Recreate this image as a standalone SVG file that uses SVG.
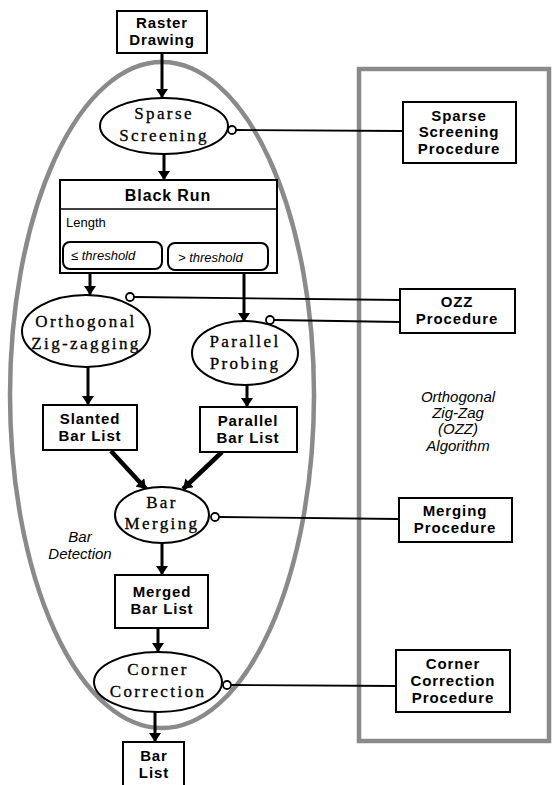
<svg xmlns="http://www.w3.org/2000/svg" width="552" height="785" viewBox="0 0 552 785">
<defs>
<marker id="ah" viewBox="0 0 12 16" refX="12" refY="8" markerWidth="16" markerHeight="12" markerUnits="userSpaceOnUse" orient="auto">
<path d="M0,0 L12,8 L0,16 z" fill="#000"/>
</marker>
<style>
.box{fill:#fff;stroke:#000;stroke-width:2}
.ell{fill:#fff;stroke:#000;stroke-width:2}
.bt{font-family:"Liberation Sans",Arial,sans-serif;font-weight:bold;font-size:15px;letter-spacing:0.9px;text-anchor:middle;fill:#000}
.et{font-family:"Liberation Serif","Times New Roman",serif;font-size:17px;letter-spacing:2.4px;text-anchor:middle;fill:#000;stroke:#000;stroke-width:0.3}
.it{font-family:"Liberation Sans",Arial,sans-serif;font-style:italic;font-size:15px;text-anchor:middle;fill:#000}
.arr{stroke:#000;stroke-width:3;fill:none;marker-end:url(#ah)}
.tarr{stroke:#000;stroke-width:4.5;fill:none;marker-end:url(#ah)}
.ln{stroke:#000;stroke-width:1.8;fill:none}
.dot{fill:#fff;stroke:#000;stroke-width:1.8}
.grp{fill:none;stroke:#8a8a8a;stroke-width:4.5}
.sm{font-family:"Liberation Sans",Arial,sans-serif;font-size:13px;fill:#000}
</style>
</defs>
<rect width="552" height="785" fill="#fff"/>

<g id="bar-detection">
<ellipse cx="162" cy="395" rx="152" ry="333" class="grp"/>
<text class="it" x="80" y="542">Bar</text>
<text class="it" x="80" y="559">Detection</text>
</g>
<g id="ozz-algorithm">
<rect x="359" y="69" width="190" height="672" class="grp"/>
<text class="it" x="458" y="402">Orthogonal</text>
<text class="it" x="458" y="418">Zig-Zag</text>
<text class="it" x="458" y="434">(OZZ)</text>
<text class="it" x="458" y="451">Algorithm</text>
</g>

<g id="connectors">
<line class="arr" x1="162" y1="53" x2="162" y2="98"/>
<line class="arr" x1="164" y1="154" x2="164" y2="180"/>
<line class="arr" x1="90" y1="269" x2="90" y2="295"/>
<line class="arr" x1="244" y1="270" x2="244" y2="322"/>
<line class="arr" x1="88" y1="367" x2="88" y2="405"/>
<line class="arr" x1="247" y1="385" x2="247" y2="407"/>
<line class="tarr" x1="111" y1="451" x2="146" y2="489"/>
<line class="tarr" x1="222" y1="452" x2="183" y2="489"/>
<line class="arr" x1="162" y1="543" x2="162" y2="575"/>
<line class="arr" x1="158" y1="628" x2="158" y2="652"/>
<line class="arr" x1="155" y1="712" x2="155" y2="742"/>
<line class="ln" x1="236" y1="130" x2="403" y2="131"/>
<line class="ln" x1="134" y1="297" x2="400" y2="300"/>
<line class="ln" x1="274" y1="320" x2="400" y2="322"/>
<line class="ln" x1="219" y1="517" x2="399" y2="519"/>
<line class="ln" x1="231" y1="685" x2="396" y2="686"/>
</g>

<g id="raster-drawing">
<rect class="box" x="117" y="11" width="90" height="42"/>
<text class="bt" x="162" y="28">Raster</text>
<text class="bt" x="162" y="45">Drawing</text>
</g>

<g id="sparse-screening">
<ellipse class="ell" cx="164" cy="126" rx="64" ry="28"/>
<text class="et" x="164" y="119">Sparse</text>
<text class="et" x="164" y="141">Screening</text>
<circle class="dot" cx="232" cy="130" r="4"/>
</g>

<g id="black-run">
<rect class="box" x="60" y="180" width="217" height="93"/>
<line x1="60" y1="209" x2="277" y2="209" stroke="#000" stroke-width="1.5"/>
<text class="bt" x="168" y="201" style="font-size:16px">Black Run</text>
<text class="sm" x="66" y="227">Length</text>
<rect class="box" x="63" y="242" width="99" height="27" rx="7" stroke-width="1.5"/>
<text class="sm" x="71" y="260" style="font-style:italic">≤ threshold</text>
<rect class="box" x="168" y="243" width="100" height="27" rx="7" stroke-width="1.5"/>
<text class="sm" x="178" y="262" style="font-style:italic">&gt; threshold</text>
</g>

<g id="orthogonal-zigzagging">
<ellipse class="ell" cx="86" cy="331" rx="64" ry="36"/>
<text class="et" x="86" y="327">Orthogonal</text>
<text class="et" x="86" y="349">Zig-zagging</text>
<circle class="dot" cx="130" cy="297" r="4"/>
</g>

<g id="parallel-probing">
<ellipse class="ell" cx="245" cy="353" rx="53" ry="32"/>
<text class="et" x="245" y="347">Parallel</text>
<text class="et" x="245" y="369">Probing</text>
<circle class="dot" cx="270" cy="320" r="4"/>
</g>

<g id="slanted-bar-list">
<rect class="box" x="43" y="405" width="94" height="45"/>
<text class="bt" x="90" y="424">Slanted</text>
<text class="bt" x="90" y="441">Bar List</text>
</g>

<g id="parallel-bar-list">
<rect class="box" x="200" y="407" width="97" height="45"/>
<text class="bt" x="248" y="426">Parallel</text>
<text class="bt" x="248" y="443">Bar List</text>
</g>

<g id="bar-merging">
<ellipse class="ell" cx="162" cy="515" rx="47" ry="28"/>
<text class="et" x="162" y="508">Bar</text>
<text class="et" x="162" y="529">Merging</text>
<circle class="dot" cx="215" cy="517" r="4"/>
</g>

<g id="merged-bar-list">
<rect class="box" x="115" y="575" width="93" height="53"/>
<text class="bt" x="162" y="597">Merged</text>
<text class="bt" x="162" y="614">Bar List</text>
</g>

<g id="corner-correction">
<ellipse class="ell" cx="158" cy="682" rx="64" ry="30"/>
<text class="et" x="158" y="675">Corner</text>
<text class="et" x="158" y="697">Correction</text>
<circle class="dot" cx="227" cy="685" r="4"/>
</g>

<g id="bar-list">
<rect class="box" x="123" y="742" width="61" height="45"/>
<text class="bt" x="154" y="761">Bar</text>
<text class="bt" x="154" y="778">List</text>
</g>

<g id="sparse-screening-procedure">
<rect class="box" x="403" y="102" width="113" height="61"/>
<text class="bt" x="459" y="121">Sparse</text>
<text class="bt" x="459" y="137">Screening</text>
<text class="bt" x="459" y="154">Procedure</text>
</g>

<g id="ozz-procedure">
<rect class="box" x="400" y="289" width="115" height="44"/>
<text class="bt" x="457" y="307">OZZ</text>
<text class="bt" x="457" y="324">Procedure</text>
</g>

<g id="merging-procedure">
<rect class="box" x="399" y="498" width="113" height="44"/>
<text class="bt" x="455" y="516">Merging</text>
<text class="bt" x="455" y="533">Procedure</text>
</g>

<g id="corner-correction-procedure">
<rect class="box" x="396" y="650" width="114" height="62"/>
<text class="bt" x="453" y="669">Corner</text>
<text class="bt" x="453" y="686">Correction</text>
<text class="bt" x="453" y="703">Procedure</text>
</g>
</svg>
